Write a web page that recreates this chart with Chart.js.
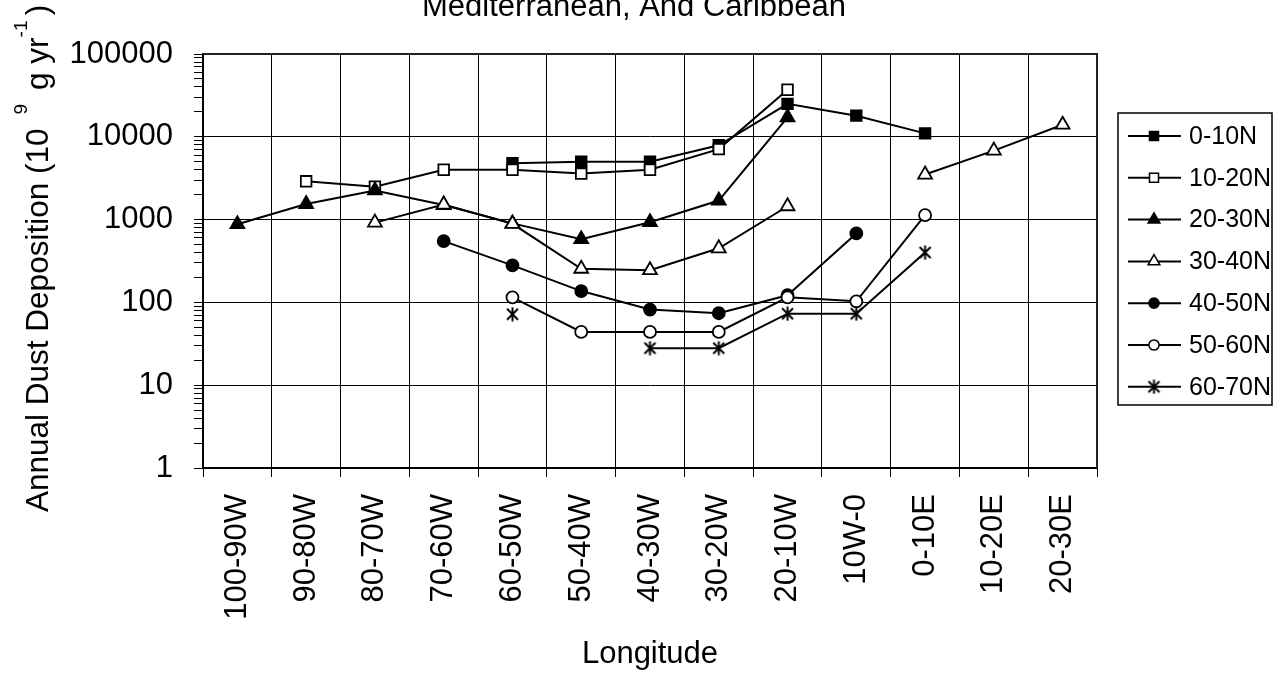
<!DOCTYPE html>
<html>
<head>
<meta charset="utf-8">
<script src="https://cdn.jsdelivr.net/npm/chart.js@4/dist/chart.umd.min.js"></script>
<style>
  html, body { margin: 0; padding: 0; background: #fff; }
  canvas { display: block; }
</style>
</head>
<body>
<canvas id="dustChart" width="1275" height="675"></canvas>
<script>
// longitude bands (x categories)
const longitudes = ['100-90W', '90-80W', '80-70W', '70-60W', '60-50W', '50-40W', '40-30W',
  '30-20W', '20-10W', '10W-0', '0-10E', '10-20E', '20-30E'];

// annual dust deposition per latitude band (null = no point)
const lat0to10 = [null, null, null, null, 4800, 5000, 5000, 7900, 25000, 18000, 11000, null, null];
const lat10to20 = [null, 2900, 2500, 4000, 4000, 3600, 4000, 7100, 37000, null, null, null, null];
const lat20to30 = [880, 1540, 2250, 1500, 900, 580, 930, 1700, 17200, null, null, null, null];
const lat30to40 = [null, null, 920, 1520, 890, 255, 245, 450, 1450, null, 3500, 6800, 14000];
const lat40to50 = [null, null, null, 550, 280, 137, 82, 74, 122, 680, null, null, null];
const lat50to60 = [null, null, null, null, 115, 44, 44, 44, 115, 103, 1130, null, null];
const lat60to70 = [null, null, null, null, 72, null, 28, 28, 73, 73, 400, null, null];

const seriesNames = ['0-10N', '10-20N', '20-30N', '30-40N', '40-50N', '50-60N', '60-70N'];
const seriesValues = [lat0to10, lat10to20, lat20to30, lat30to40, lat40to50, lat50to60, lat60to70];

// labelled decades on the log axis
const yTickLabels = [1, 10, 100, 1000, 10000, 100000];

const FONT = "'Liberation Sans', Arial, sans-serif";
Chart.defaults.font.family = FONT;
Chart.defaults.color = '#000';

// excel style asterisk marker: an X with a vertical bar
function makeStar(size) {
  let c = document.createElement('canvas');
  c.width = size;
  c.height = size;
  let g = c.getContext('2d');
  g.strokeStyle = '#000';
  g.lineWidth = 2;
  g.beginPath();
  g.moveTo(size / 2, 0.5);
  g.lineTo(size / 2, size - 0.5);
  g.moveTo(2, 2);
  g.lineTo(size - 2, size - 2);
  g.moveTo(size - 2, 2);
  g.lineTo(2, size - 2);
  g.stroke();
  return c;
}

const markers = [
  { style: 'rect', radius: 7.5, fill: '#000' },
  { style: 'rect', radius: 7.5, fill: '#fff' },
  { style: 'triangle', radius: 8, fill: '#000' },
  { style: 'triangle', radius: 8, fill: '#fff' },
  { style: 'circle', radius: 6, fill: '#000' },
  { style: 'circle', radius: 6, fill: '#fff' },
  { style: makeStar(15), radius: 7, fill: '#000' }
];

const datasets = seriesNames.map(function (name, i) {
  return {
    label: name,
    data: seriesValues[i],
    borderColor: '#000',
    borderWidth: 2,
    pointStyle: markers[i].style,
    pointRadius: markers[i].radius,
    pointHoverRadius: markers[i].radius,
    pointBackgroundColor: markers[i].fill,
    pointBorderColor: '#000',
    pointBorderWidth: 1.8,
    spanGaps: false,
    tension: 0,
    order: -i // later series on top, like the original
  };
});

// title, y title with superscripts, plot frame and legend
const chartExtras = {
  id: 'chartExtras',
  beforeDatasetsDraw(chart) {
    const ctx = chart.ctx;
    const a = chart.chartArea;
    ctx.save();
    ctx.strokeStyle = '#222';
    ctx.lineWidth = 2;
    ctx.beginPath();
    ctx.moveTo(a.left, a.top);
    ctx.lineTo(a.right, a.top);
    ctx.lineTo(a.right, a.bottom);
    ctx.stroke();
    ctx.restore();
  },
  afterDraw(chart) {
    const ctx = chart.ctx;
    ctx.save();
    ctx.fillStyle = '#000';

    // title (its first line runs off the top of the picture)
    ctx.font = '31px ' + FONT;
    ctx.textAlign = 'center';
    ctx.textBaseline = 'alphabetic';
    ctx.fillText('Mediterranean, And Caribbean', 634, 16);

    // y axis title
    ctx.save();
    ctx.translate(48, 512);
    ctx.rotate(-Math.PI / 2);
    ctx.textAlign = 'left';
    let parts = [
      { t: 'Annual Dust Deposition (10 ', sup: false },
      { t: ' 9 ', sup: true },
      { t: ' g yr', sup: false },
      { t: '-1 ', sup: true },
      { t: ')', sup: false }
    ];
    let x = 0;
    parts.forEach(function (p) {
      ctx.font = (p.sup ? '19px ' : '31.5px ') + FONT;
      ctx.fillText(p.t, x, p.sup ? -21 : 0);
      x += ctx.measureText(p.t).width;
    });
    ctx.restore();

    // legend
    ctx.strokeStyle = '#000';
    ctx.lineWidth = 1.5;
    ctx.strokeRect(1118, 113, 154, 292);
    ctx.font = '25px ' + FONT;
    ctx.textAlign = 'left';
    ctx.textBaseline = 'middle';
    seriesNames.forEach(function (name, i) {
      let y = 136 + i * 41.8;
      ctx.lineWidth = 2;
      ctx.beginPath();
      ctx.moveTo(1128, y);
      ctx.lineTo(1181, y);
      ctx.stroke();
      ctx.fillStyle = markers[i].fill;
      ctx.lineWidth = 1.5;
      Chart.helpers.drawPoint(ctx, {
        pointStyle: markers[i].style,
        radius: markers[i].radius * 0.85,
        rotation: 0,
        borderWidth: 1.5
      }, 1154, y);
      ctx.fillStyle = '#000';
      ctx.fillText(name, 1189, y + 1);
    });
    ctx.restore();
  }
};

const ctx = document.getElementById('dustChart').getContext('2d');
const chart = new Chart(ctx, {
  type: 'line',
  data: {
    labels: longitudes,
    datasets: datasets
  },
  options: {
    responsive: false,
    animation: false,
    devicePixelRatio: 1,
    layout: {
      padding: { top: 54, right: 178, bottom: 0, left: 0 }
    },
    plugins: {
      legend: { display: false },
      tooltip: { enabled: false }
    },
    scales: {
      x: {
        type: 'category',
        offset: true,
        afterFit: function (scale) { scale.height = 207; },
        grid: {
          offset: true,
          color: '#000',
          lineWidth: 1,
          tickLength: 9,
          tickColor: '#000'
        },
        border: { color: '#000', width: 2 },
        ticks: {
          minRotation: 90,
          maxRotation: 90,
          autoSkip: false,
          padding: 17,
          font: { size: 31 }
        },
        title: {
          display: true,
          text: 'Longitude',
          font: { size: 31 },
          padding: { top: 0, bottom: 2 }
        }
      },
      y: {
        type: 'logarithmic',
        min: 1,
        max: 100000,
        afterFit: function (scale) { scale.width = 203; },
        afterBuildTicks: function (scale) {
          let ticks = [];
          yTickLabels.forEach(function (dec) {
            for (let k = 1; k <= 9; k += 1) {
              let v = dec * k;
              if (v <= 100000) ticks.push({ value: v, major: k === 1 });
            }
          });
          scale.ticks = ticks;
        },
        grid: {
          color: function (c) {
            return c.tick && yTickLabels.includes(c.tick.value) ? '#000' : 'rgba(0,0,0,0)';
          },
          lineWidth: 1,
          tickLength: 9,
          tickColor: '#000'
        },
        border: { color: '#000', width: 2 },
        ticks: {
          autoSkip: false,
          padding: 21,
          font: { size: 31 },
          callback: function (v) {
            return yTickLabels.includes(v) ? String(v) : '';
          }
        }
      }
    }
  },
  plugins: [chartExtras]
});
</script>
</body>
</html>
